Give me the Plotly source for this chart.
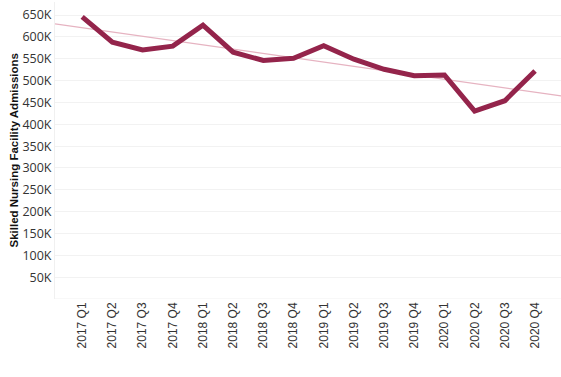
import numpy as np
import plotly.graph_objects as go

quarters = ["2017 Q1", "2017 Q2", "2017 Q3", "2017 Q4",
            "2018 Q1", "2018 Q2", "2018 Q3", "2018 Q4",
            "2019 Q1", "2019 Q2", "2019 Q3", "2019 Q4",
            "2020 Q1", "2020 Q2", "2020 Q3", "2020 Q4"]
admissions = [646000, 588000, 570000, 579000,
              627000, 565000, 546000, 551000,
              580000, 549000, 526000, 511000,
              513000, 430000, 454000, 522000]
y_ticks = [50000 * i for i in range(1, 14)]
y_tick_labels = [f"{v // 1000}K" for v in y_ticks]

xs = np.arange(len(quarters))
slope, intercept = np.polyfit(xs, admissions, 1)
x_range = [-0.9, 15.86]
trend_x = np.array(x_range)
trend_y = slope * trend_x + intercept

fig = go.Figure()
fig.add_trace(go.Scatter(x=trend_x, y=trend_y, mode="lines",
                         line=dict(color="#e6b3c1", width=1.3),
                         hoverinfo="skip", showlegend=False))
fig.add_trace(go.Scatter(x=xs, y=admissions, mode="lines",
                         line=dict(color="#94244b", width=5),
                         showlegend=False))

fig.update_layout(
    width=561, height=377,
    margin=dict(l=55, r=0, t=2, b=78),
    paper_bgcolor="white", plot_bgcolor="white",
    xaxis=dict(range=x_range, tickmode="array", tickvals=list(xs), ticktext=quarters,
               tickangle=-90, showgrid=False, zeroline=False, showline=False, automargin=False,
               ticks="", tickfont=dict(family="Liberation Sans, Arial", size=12, color="#333333")),
    yaxis=dict(range=[0, 680000], tickmode="array", tickvals=y_ticks, ticktext=y_tick_labels,
               showgrid=True, gridcolor="#f2f2f2", gridwidth=1, zeroline=False, automargin=False,
               showline=True, linecolor="#f0f0f0", linewidth=1, ticks="",
               tickfont=dict(family="Open Sans, Noto Sans", size=12.5, color="#333333")),
    shapes=[dict(type="line", xref="paper", yref="y", x0=0, x1=1, y0=0, y1=0,
                 line=dict(color="#f0f0f0", width=1))],
    annotations=[dict(text="<b>Skilled Nursing Facility Admissions</b>", textangle=-90,
                      xref="paper", yref="paper", x=0, y=0.5, xanchor="center", yanchor="middle",
                      xshift=-42, showarrow=False,
                      font=dict(family="Liberation Sans, Arial", size=11.5, color="#111111"))],
)
fig.write_html("out.html", config={"displayModeBar": False},
               post_script="document.body.style.margin='0';document.body.style.overflow='hidden';")
